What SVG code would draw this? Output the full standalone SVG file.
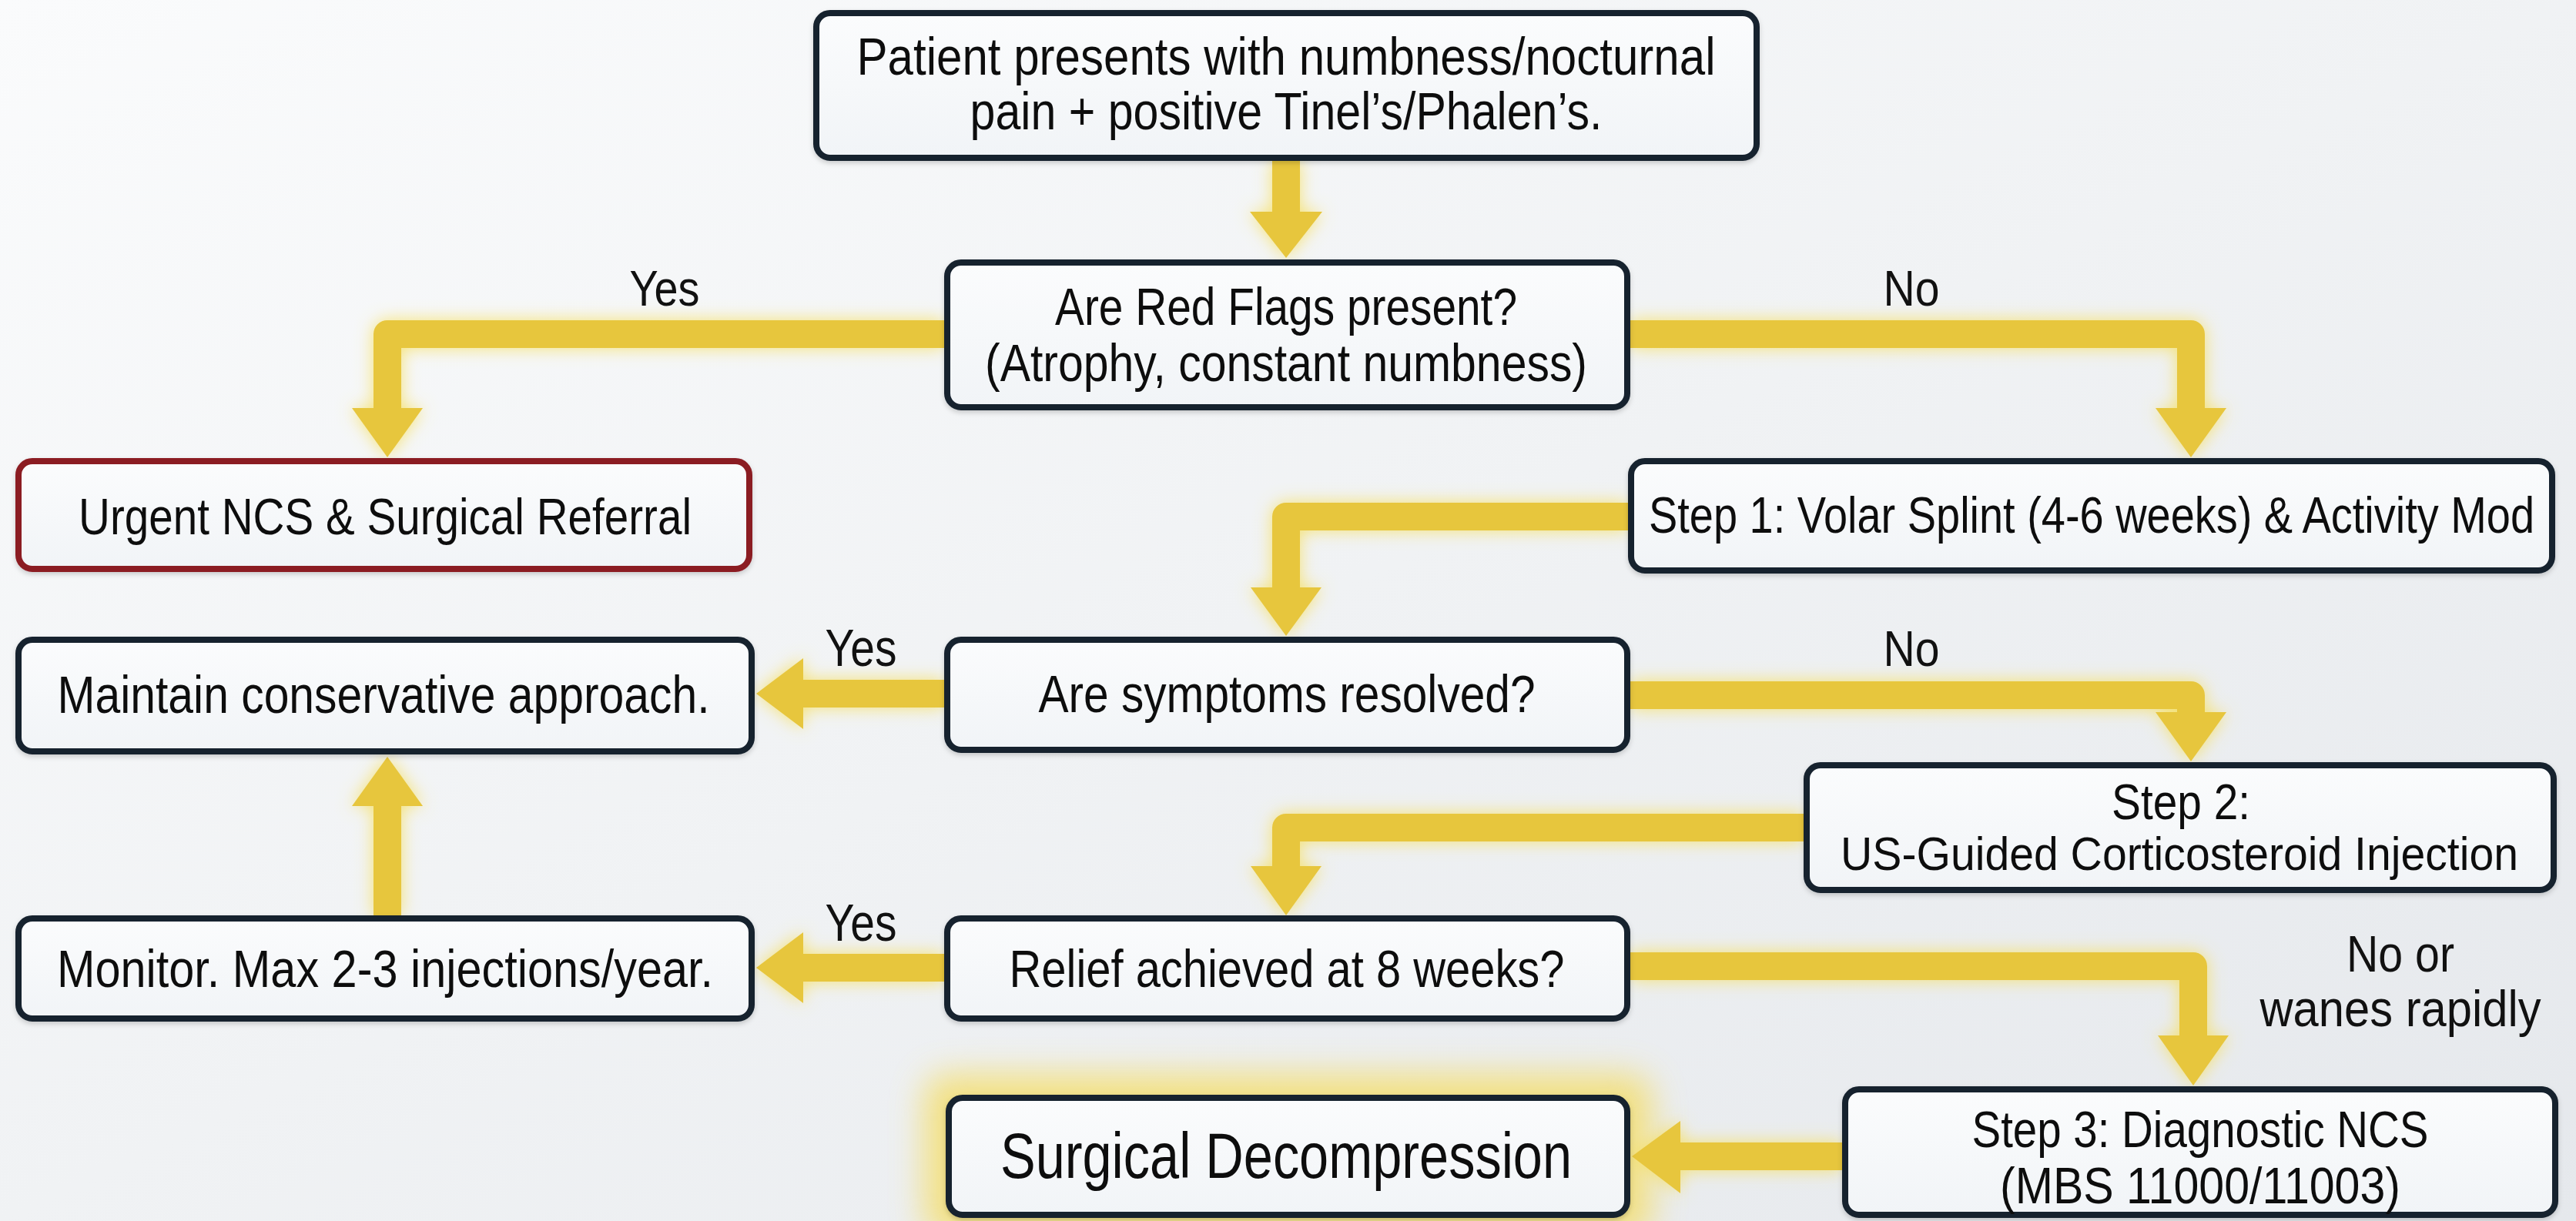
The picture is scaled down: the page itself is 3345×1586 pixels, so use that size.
<svg xmlns="http://www.w3.org/2000/svg" width="3345" height="1586" viewBox="0 0 3345 1586">
<defs>
<linearGradient id="bg" x1="0" y1="0" x2="1" y2="1">
<stop offset="0" stop-color="#fafbfc"/>
<stop offset="0.5" stop-color="#f0f2f4"/>
<stop offset="1" stop-color="#e5e8ec"/>
</linearGradient>
<linearGradient id="boxfill" x1="0" y1="0" x2="0" y2="1">
<stop offset="0" stop-color="#fbfcfd"/>
<stop offset="1" stop-color="#f1f4f7"/>
</linearGradient>
<filter id="glow" filterUnits="userSpaceOnUse" x="0" y="0" width="3345" height="1586">
<feGaussianBlur in="SourceAlpha" stdDeviation="11" result="b"/>
<feFlood flood-color="#f6df5c" flood-opacity="0.85"/>
<feComposite in2="b" operator="in" result="g"/>
<feMerge><feMergeNode in="g"/><feMergeNode in="SourceGraphic"/></feMerge>
</filter>
<filter id="halo" filterUnits="userSpaceOnUse" x="1100" y="1300" width="1150" height="286">
<feGaussianBlur stdDeviation="22"/>
</filter>
<filter id="shadow" x="-5%" y="-10%" width="110%" height="130%">
<feDropShadow dx="0" dy="3" stdDeviation="3" flood-color="#000" flood-opacity="0.18"/>
</filter>
</defs>
<style>
.box{fill:url(#boxfill);stroke:#16202d;stroke-width:8}
.red{stroke:#8b1c24}
.t{font-family:"Liberation Sans Narrow","Liberation Sans",Arial,sans-serif;fill:#111;text-anchor:middle}
.shaft{fill:none;stroke:#e7c63d;stroke-width:36;stroke-linejoin:round;stroke-linecap:butt}
.head{fill:#e7c63d}
</style>
<rect x="0" y="0" width="3345" height="1586" fill="url(#bg)"/>

<rect x="1200" y="1395" width="945" height="215" rx="30" fill="#f5dc5c" opacity="0.75" filter="url(#halo)"/>

<g id="connectors" filter="url(#glow)">
<path class="shaft" d="M1670 209 V276"/>
<polygon class="head" points="1623,275 1717,275 1670,335"/>
<path class="shaft" d="M1226 434 H503 V531"/>
<polygon class="head" points="457,530 549,530 503,594"/>
<path class="shaft" d="M2117 434 H2845 V531"/>
<polygon class="head" points="2799,530 2891,530 2845,594"/>
<path class="shaft" d="M2114 671 H1670 V764"/>
<polygon class="head" points="1624,763 1716,763 1670,826"/>
<path class="shaft" d="M1226 901 H1042"/>
<polygon class="head" points="1043,855 1043,947 982,901"/>
<path class="shaft" d="M2117 903 H2845 V926"/>
<polygon class="head" points="2799,925 2891,925 2845,989"/>
<path class="shaft" d="M2342 1075 H1670 V1126"/>
<polygon class="head" points="1624,1125 1716,1125 1670,1189"/>
<path class="shaft" d="M1226 1257 H1042"/>
<polygon class="head" points="1043,1211 1043,1303 982,1257"/>
<path class="shaft" d="M2117 1255 H2848 V1346"/>
<polygon class="head" points="2802,1345 2894,1345 2848,1410"/>
<path class="shaft" d="M503 1189 V1046"/>
<polygon class="head" points="457,1047 549,1047 503,983"/>
<path class="shaft" d="M2392 1502 H2181"/>
<polygon class="head" points="2182,1456 2182,1550 2119,1502"/>
</g>

<g id="n1" filter="url(#shadow)">
<rect class="box" x="1060" y="17" width="1221" height="188" rx="18"/>
<text class="t" x="1670" y="97" font-size="68" textLength="1115" lengthAdjust="spacingAndGlyphs">Patient presents with numbness/nocturnal</text>
<text class="t" x="1670" y="168" font-size="68" textLength="821" lengthAdjust="spacingAndGlyphs">pain + positive Tinel’s/Phalen’s.</text>
</g>
<g id="n2" filter="url(#shadow)">
<rect class="box" x="1230" y="341" width="883" height="188" rx="18"/>
<text class="t" x="1670" y="422" font-size="68" textLength="600" lengthAdjust="spacingAndGlyphs">Are Red Flags present?</text>
<text class="t" x="1670" y="495" font-size="68" textLength="782" lengthAdjust="spacingAndGlyphs">(Atrophy, constant numbness)</text>
</g>
<g id="n3" filter="url(#shadow)">
<rect class="box red" x="24" y="599" width="949" height="140" rx="18"/>
<text class="t" x="500" y="694" font-size="66" textLength="796" lengthAdjust="spacingAndGlyphs">Urgent NCS &amp; Surgical Referral</text>
</g>
<g id="n4" filter="url(#shadow)">
<rect class="box" x="2118" y="599" width="1196" height="142" rx="18"/>
<text class="t" x="2716" y="692" font-size="66" textLength="1150" lengthAdjust="spacingAndGlyphs">Step 1: Volar Splint (4-6 weeks) &amp; Activity Mod</text>
</g>
<g id="n5" filter="url(#shadow)">
<rect class="box" x="1230" y="831" width="883" height="143" rx="18"/>
<text class="t" x="1671" y="925" font-size="68" textLength="645" lengthAdjust="spacingAndGlyphs">Are symptoms resolved?</text>
</g>
<g id="n6" filter="url(#shadow)">
<rect class="box" x="24" y="831" width="952" height="145" rx="18"/>
<text class="t" x="498" y="926" font-size="68" textLength="847" lengthAdjust="spacingAndGlyphs">Maintain conservative approach.</text>
</g>
<g id="n7" filter="url(#shadow)">
<rect class="box" x="2346" y="994" width="970" height="162" rx="18"/>
<text class="t" x="2832" y="1064" font-size="64" textLength="180" lengthAdjust="spacingAndGlyphs">Step 2:</text>
<text class="t" x="2830" y="1130" font-size="62" textLength="880" lengthAdjust="spacingAndGlyphs">US-Guided Corticosteroid Injection</text>
</g>
<g id="n8" filter="url(#shadow)">
<rect class="box" x="1230" y="1193" width="883" height="130" rx="18"/>
<text class="t" x="1671" y="1282" font-size="68" textLength="721" lengthAdjust="spacingAndGlyphs">Relief achieved at 8 weeks?</text>
</g>
<g id="n9" filter="url(#shadow)">
<rect class="box" x="24" y="1193" width="952" height="130" rx="18"/>
<text class="t" x="500" y="1282" font-size="68" textLength="852" lengthAdjust="spacingAndGlyphs">Monitor. Max 2-3 injections/year.</text>
</g>
<g id="n10" filter="url(#shadow)">
<rect class="box" x="1232" y="1426" width="881" height="152" rx="18"/>
<text class="t" x="1670" y="1530" font-size="84" textLength="742" lengthAdjust="spacingAndGlyphs">Surgical Decompression</text>
</g>
<g id="n11" filter="url(#shadow)">
<rect class="box" x="2396" y="1415" width="922" height="163" rx="18"/>
<text class="t" x="2857" y="1490" font-size="67" textLength="593" lengthAdjust="spacingAndGlyphs">Step 3: Diagnostic NCS</text>
<text class="t" x="2857" y="1563" font-size="67" textLength="520" lengthAdjust="spacingAndGlyphs">(MBS 11000/11003)</text>
</g>

<g id="labels">
<text class="t" x="863" y="397" font-size="64" textLength="91" lengthAdjust="spacingAndGlyphs">Yes</text>
<text class="t" x="2482" y="397" font-size="64" textLength="73" lengthAdjust="spacingAndGlyphs">No</text>
<text class="t" x="1118" y="865" font-size="68" textLength="93" lengthAdjust="spacingAndGlyphs">Yes</text>
<text class="t" x="2482" y="865" font-size="64" textLength="73" lengthAdjust="spacingAndGlyphs">No</text>
<text class="t" x="1118" y="1222" font-size="68" textLength="93" lengthAdjust="spacingAndGlyphs">Yes</text>
<text class="t" x="3117" y="1262" font-size="66" textLength="140" lengthAdjust="spacingAndGlyphs">No or</text>
<text class="t" x="3117" y="1333" font-size="66" textLength="365" lengthAdjust="spacingAndGlyphs">wanes rapidly</text>
</g>
</svg>
